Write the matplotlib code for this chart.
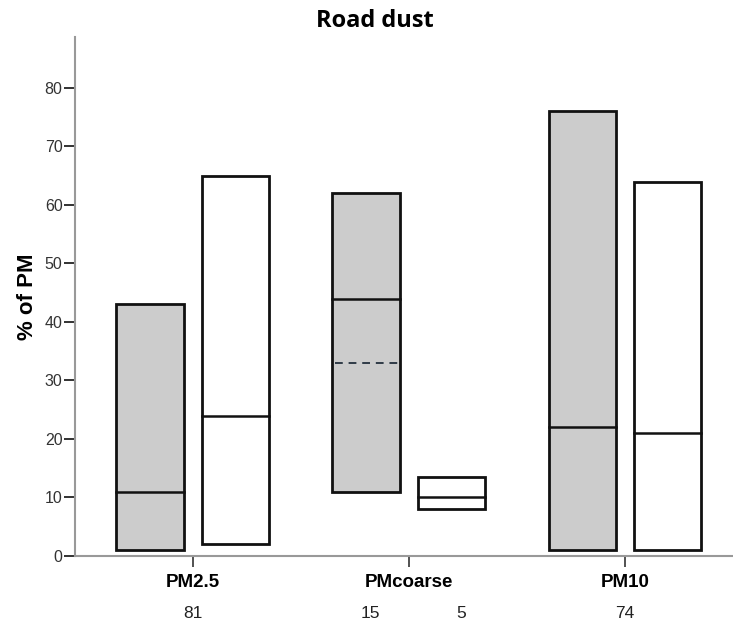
import matplotlib.pyplot as plt
from matplotlib.patches import Rectangle

# Road dust contribution to PM (% of PM), range boxes with median line
categories = ['PM2.5', 'PMcoarse', 'PM10']
gray_low = [1, 11, 1]
gray_high = [43, 62, 76]
gray_median = [11, 44, 22]
white_low = [2, 8, 1]
white_high = [65, 13.5, 64]
white_median = [24, 10, 21]
coarse_dashed = 33
# sample counts printed under the axis: (category index, side, text)
count_labels = [(0, 0.0, '81'), (1, -0.18, '15'), (1, 0.24, '5'), (2, 0.0, '74')]

fig = plt.figure(figsize=(7.33, 6.22), dpi=100)
ax = fig.add_axes([75 / 733, 66 / 622, 658 / 733, 519 / 622])

half = 0.157
offset = 0.197


def draw_box(x, low, high, med, face):
    ax.add_patch(Rectangle((x - half, low), 2 * half, high - low,
                           facecolor=face, edgecolor='#111111', linewidth=2, zorder=2))
    ax.plot([x - half, x + half], [med, med], color='#111111', linewidth=1.8, zorder=3)


for i in range(len(categories)):
    draw_box(i - offset, gray_low[i], gray_high[i], gray_median[i], '#cccccc')
    draw_box(i + offset, white_low[i], white_high[i], white_median[i], 'white')

ax.plot([1 - offset - half + 0.01, 1 - offset + half - 0.01], [coarse_dashed, coarse_dashed],
        color='#2f3b47', linewidth=1.4, linestyle=(0, (4, 3)), zorder=3)

ax.set_xlim(-0.546, 2.5)
ax.set_ylim(0, 88.7)
ax.set_yticks(range(0, 81, 10))
ax.set_xticks(range(len(categories)))
ax.set_xticklabels(categories, fontsize=13.5, fontweight='bold', family='Liberation Sans')
for lab in ax.get_yticklabels():
    lab.set_family('Liberation Sans')
    lab.set_fontsize(11.5)
    lab.set_color('#333333')

ax.tick_params(axis='y', length=8, width=1.3, color='#222222', pad=1)
ax.tick_params(axis='x', length=8, width=1.1, color='#222222', pad=5)
for side in ['top', 'right']:
    ax.spines[side].set_visible(False)
for side in ['left', 'bottom']:
    ax.spines[side].set_color('#999999')
    ax.spines[side].set_linewidth(1.5)

ax.set_ylabel('% of PM', fontsize=16, fontweight='bold', family='Liberation Sans', labelpad=5)
fig.text(0.512, 0.966, 'Road dust', ha='center', va='center',
         fontsize=17, fontweight='bold', family='Open Sans')

for i, dx, txt in count_labels:
    ax.text(i + dx, -9.8, txt, ha='center', va='center', fontsize=12.5,
            family='Liberation Sans', color='#222222')

fig.savefig('out.png', dpi=100)
